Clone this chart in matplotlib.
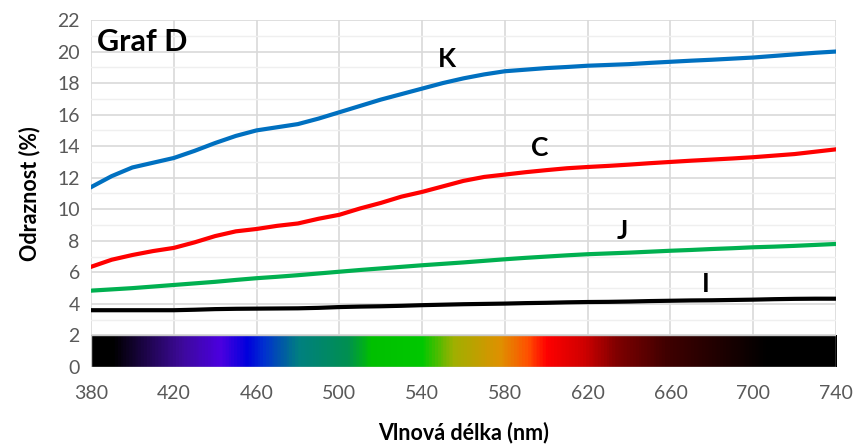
import numpy as np
import matplotlib
matplotlib.use("Agg")
import matplotlib.pyplot as plt
from matplotlib.colors import LinearSegmentedColormap

plt.rcParams['font.family'] = ['Lato', 'DejaVu Sans']

wavelength = list(range(380, 741, 10))
curve_K = [11.4, 12.1, 12.65, 12.95, 13.25, 13.7, 14.2, 14.65, 15.0, 15.2,
           15.4, 15.75, 16.15, 16.55, 16.95, 17.3, 17.65, 18.0, 18.3, 18.55,
           18.75, 18.85, 18.95, 19.02, 19.1, 19.15, 19.2, 19.28, 19.35, 19.42,
           19.48, 19.55, 19.62, 19.72, 19.82, 19.92, 20.0]
curve_C = [6.35, 6.8, 7.1, 7.35, 7.55, 7.9, 8.3, 8.6, 8.75, 8.95,
           9.1, 9.4, 9.65, 10.05, 10.4, 10.8, 11.1, 11.45, 11.8, 12.05,
           12.2, 12.35, 12.48, 12.6, 12.68, 12.75, 12.83, 12.92, 13.0, 13.08,
           13.15, 13.22, 13.3, 13.4, 13.5, 13.65, 13.8]
curve_J = [4.84, 4.92, 5.0, 5.1, 5.2, 5.3, 5.4, 5.52, 5.63, 5.72,
           5.82, 5.93, 6.04, 6.15, 6.25, 6.35, 6.45, 6.54, 6.63, 6.73,
           6.83, 6.92, 7.0, 7.08, 7.15, 7.2, 7.25, 7.31, 7.37, 7.42,
           7.48, 7.53, 7.59, 7.63, 7.68, 7.74, 7.8]
curve_I = [3.6, 3.6, 3.6, 3.6, 3.6, 3.63, 3.67, 3.69, 3.7, 3.71,
           3.72, 3.75, 3.8, 3.83, 3.85, 3.88, 3.92, 3.95, 3.98, 4.0,
           4.02, 4.05, 4.07, 4.1, 4.12, 4.13, 4.15, 4.18, 4.2, 4.22,
           4.23, 4.25, 4.27, 4.3, 4.32, 4.33, 4.33]

# spectrum strip under the curves
spec_nm = [380, 390, 423, 442, 455, 463, 480, 504, 515, 540, 555,
           578, 591, 600, 618, 634, 658, 683, 707, 740]
spec_col = ['#000000', '#000000', '#3d0a9a', '#4b00e0', '#0000dd', '#0030d0',
            '#008080', '#009050', '#00c000', '#00c800', '#a0b000',
            '#e09000', '#ff5000', '#ff0000', '#d00000', '#800000',
            '#400000', '#200000', '#000000', '#000000']

series = [
    (curve_K, '#0070C0', 'K', 552, 19.5),
    (curve_C, '#FF0000', 'C', 597, 13.9),
    (curve_J, '#00B050', 'J', 637, 8.6),
    (curve_I, '#000000', 'I', 677, 5.25),
]

fig = plt.figure(figsize=(8.55, 4.48), dpi=100)
ax = fig.add_axes([0.1064, 0.1808, 0.8714, 0.7746])

pos = [(n - 380) / 360 for n in spec_nm]
cmap = LinearSegmentedColormap.from_list('spec', list(zip(pos, spec_col)))
grad = np.linspace(0, 1, 720).reshape(1, -1)
ax.imshow(grad, cmap=cmap, extent=[380, 740, 0, 2], aspect='auto',
          interpolation='bilinear', zorder=2)
ax.add_patch(plt.Rectangle((380, 0), 360, 2, fill=False, ec='#c8c8c8', lw=1, zorder=3))

for vals, col, lab, lx, ly in series:
    ax.plot(wavelength, vals, color=col, lw=3, solid_joinstyle='round', zorder=4)
    ax.text(lx, ly, lab, fontsize=19, fontweight='bold', ha='center', va='center', zorder=5)

ax.text(383, 20.6, 'Graf D', fontsize=22, fontweight='bold', ha='left', va='center', zorder=5)

ax.set_xlim(380, 740)
ax.set_ylim(0, 22)
ax.set_xticks(np.arange(380, 741, 40))
ax.set_yticks(np.arange(0, 23, 2))
ax.set_yticks(np.arange(1, 22, 2), minor=True)
ax.grid(True, which='major', color='#d9d9d9', lw=1.2, zorder=0)
ax.grid(True, which='minor', axis='y', color='#efefef', lw=1.0, zorder=0)
ax.set_axisbelow(True)
for s in ax.spines.values():
    s.set_visible(False)
ax.tick_params(which='both', length=0, labelsize=14, colors='#595959', pad=8)
ax.tick_params(axis='x', pad=13)

ax.set_xlabel('Vlnová délka (nm)', fontsize=15.5, fontweight='bold', labelpad=14)
ax.set_ylabel('Odraznost (%)', fontsize=15.5, fontweight='bold', labelpad=12)

fig.savefig('out.png', dpi=100)
